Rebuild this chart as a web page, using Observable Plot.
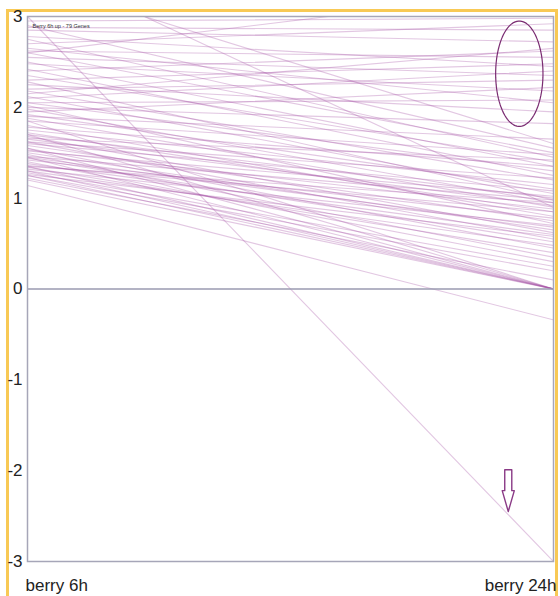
<!DOCTYPE html>
<html>
<head>
<meta charset="utf-8">
<script src="https://cdn.jsdelivr.net/npm/d3@7"></script>
<script src="https://cdn.jsdelivr.net/npm/@observablehq/plot@0.6"></script>
<style>
  html, body { margin: 0; padding: 0; background: #fff; overflow: hidden; }
  #wrap { position: relative; width: 560px; height: 596px; }
  #border { position: absolute; left: 6px; top: 9px; width: 546px; height: 640px; border: 3px solid #f8c955; box-sizing: content-box; }
  #chart { position: absolute; left: 0; top: 0; }
</style>
</head>
<body>
<div id="wrap">
  <div id="border"></div>
  <div id="chart"></div>
</div>
<script>
const categories = ["berry 6h", "berry 24h"];
const title = "Berry 6h up - 79 Genes";
const yTicks = [-3, -2, -1, 0, 1, 2, 3];

// log ratio at berry 6h and berry 24h for each of the 79 genes
const berry6h = [
  2.95, 2.85, 2.70, 2.62, 2.78, 2.40, 2.55, 2.30, 2.20, 2.48, 2.10, 2.05, 2.25, 1.95, 2.00, 2.65,
  2.90, 2.75, 2.60, 2.50, 2.42, 2.35, 2.18, 2.12, 2.05, 1.98, 1.92, 1.88, 1.85, 1.80, 2.28, 2.02,
  1.75, 1.72, 1.70, 1.68, 1.65, 1.62, 1.60, 1.58, 1.55, 1.53, 1.50, 1.48, 1.46, 1.44, 1.42, 1.40,
  1.38, 1.36, 1.34, 1.32, 1.30, 1.28, 1.26, 1.25, 1.62, 1.52, 1.45, 1.35,
  1.70, 1.55, 1.45, 1.35, 1.30, 1.25, 1.85, 1.20,
  3.00, 1.14, 3.60, 3.40, 2.60, 2.88, 2.15, 1.90, 1.78, 1.66, 1.22
];
const berry24h = [
  2.98, 2.72, 2.92, 2.55, 2.45, 2.62, 2.35, 2.48, 2.30, 2.18, 2.40, 2.08, 1.95, 2.22, 1.82, 2.05,
  1.55, 1.45, 1.50, 1.35, 1.25, 1.40, 1.20, 1.05, 1.30, 0.95, 1.10, 0.90, 1.48, 0.80, 0.98, 0.72,
  1.15, 0.85, 1.00, 0.62, 0.92, 0.55, 1.08, 0.75, 0.45, 0.88, 0.65, 0.35, 0.98, 0.52, 0.78, 0.30,
  0.60, 0.85, 0.40, 0.70, 0.48, 0.25, 0.58, 0.20, 1.22, 1.02, 0.68, 0.95,
  0.00, 0.00, 0.00, 0.00, 0.00, 0.00, 0.00, 0.00,
  -3.00, -0.34, 0.90, 1.60, 3.30, 2.85, 2.65, 1.65, 1.35, 1.42, 0.10
];

// annotation shapes (in chart coordinates)
const ellipse = {cx: 0.935, cy: 2.37, rx: 0.045, ry: 0.58};
const arrow = {x: 0.914, top: -1.99, neck: -2.22, tip: -2.45, shaft: 0.0067, head: 0.0115};

const rows = [];
berry6h.forEach((v, i) => {
  rows.push({gene: i, x: 0, y: v});
  rows.push({gene: i, x: 1, y: berry24h[i]});
});

const ellipsePts = d3.range(0, 361, 4).map(a => ({
  x: ellipse.cx + ellipse.rx * Math.cos(a * Math.PI / 180),
  y: ellipse.cy + ellipse.ry * Math.sin(a * Math.PI / 180)
}));
const arrowPts = [
  {x: arrow.x - arrow.shaft, y: arrow.top},
  {x: arrow.x + arrow.shaft, y: arrow.top},
  {x: arrow.x + arrow.shaft, y: arrow.neck},
  {x: arrow.x + arrow.head, y: arrow.neck},
  {x: arrow.x, y: arrow.tip},
  {x: arrow.x - arrow.head, y: arrow.neck},
  {x: arrow.x - arrow.shaft, y: arrow.neck},
  {x: arrow.x - arrow.shaft, y: arrow.top}
];

const chart = Plot.plot({
  width: 560,
  height: 596,
  marginLeft: 27,
  marginRight: 7,
  marginTop: 16,
  marginBottom: 35,
  style: {fontFamily: "Liberation Sans, Arial, sans-serif", background: "transparent", color: "#222"},
  x: {domain: [0, 1], axis: null},
  y: {domain: [-3, 3], axis: null},
  marks: [
    Plot.line(rows, {x: "x", y: "y", z: "gene", stroke: "#a650a4", strokeOpacity: 0.32, strokeWidth: 1.1, clip: true}),
    Plot.ruleY([0], {stroke: "#9a9ab0", strokeWidth: 1.6}),
    Plot.frame({stroke: "#a6a6b8", strokeWidth: 1.5}),
    Plot.axisY(yTicks, {label: null, tickSize: 0, tickPadding: 5, fontSize: 17, fill: "#222", tickFormat: d => d < 0 ? "-" + Math.abs(d) : String(d)}),
    Plot.text([categories[0]], {x: 0, y: -3, text: d => d, textAnchor: "start", dx: -2, dy: 24, fontSize: 17, fill: "#222"}),
    Plot.text([categories[1]], {x: 1, y: -3, text: d => d, textAnchor: "end", dx: 3, dy: 24, fontSize: 17, fill: "#222"}),
    Plot.text([title], {frameAnchor: "top-left", text: d => d, dx: 5, dy: 8, fontSize: 5.5, fill: "#333"}),
    Plot.line(ellipsePts, {x: "x", y: "y", stroke: "#7a2c72", strokeWidth: 1.2}),
    Plot.line(arrowPts, {x: "x", y: "y", stroke: "#8a3a86", strokeWidth: 1.4, fill: "none"})
  ]
});
document.getElementById("chart").appendChild(chart);
</script>
</body>
</html>
